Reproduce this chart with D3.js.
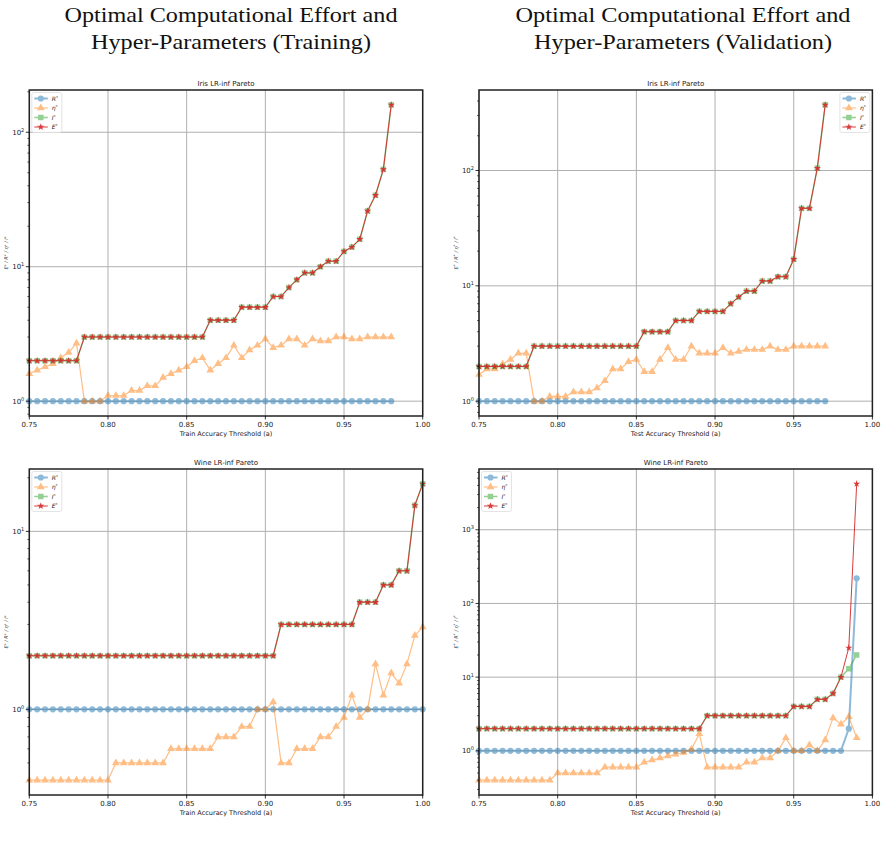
<!DOCTYPE html>
<html>
<head>
<meta charset="utf-8">
<script src="https://cdn.jsdelivr.net/npm/d3@7/dist/d3.min.js"></script>
<style>
body { margin: 0; background: #fff; }
text { font-family: "DejaVu Sans", sans-serif; }
.big { font-family: "Liberation Serif", serif; font-size: 21px; fill: #111; }
</style>
</head>
<body>
<svg id="chart" width="885" height="841"></svg>
<script>
// ---- data ----
var irisTrainA = [0.75,0.755,0.76,0.765,0.77,0.775,0.78,0.785,0.79,0.795,0.8,0.805,0.81,0.815,0.82,0.825,0.83,0.835,0.84,0.845,0.85,0.855,0.86,0.865,0.87,0.875,0.88,0.885,0.89,0.895,0.9,0.905,0.91,0.915,0.92,0.925,0.93,0.935,0.94,0.945,0.95,0.955,0.96,0.965,0.97,0.975,0.98];
var irisTrainR = [1,1,1,1,1,1,1,1,1,1,1,1,1,1,1,1,1,1,1,1,1,1,1,1,1,1,1,1,1,1,1,1,1,1,1,1,1,1,1,1,1,1,1,1,1,1,1];
var irisTrainEta = [1.6,1.7,1.8,1.9,2.1,2.3,2.7,1,1,1,1.1,1.1,1.1,1.2,1.2,1.3,1.3,1.5,1.6,1.7,1.8,2.0,2.1,1.7,1.9,2.1,2.6,2.1,2.4,2.6,2.9,2.5,2.6,2.9,2.9,2.6,2.9,2.8,2.8,3.0,3.0,2.9,2.9,3.0,3.0,3.0,3.0];
var irisTrainI = [2,2,2,2,2,2,2,3,3,3,3,3,3,3,3,3,3,3,3,3,3,3,3,4,4,4,4,5,5,5,5,6,6,7,8,9,9,10,11,11,13,14,16,26,34,53,160];
var irisTrainE = [2,2,2,2,2,2,2,3,3,3,3,3,3,3,3,3,3,3,3,3,3,3,3,4,4,4,4,5,5,5,5,6,6,7,8,9,9,10,11,11,13,14,16,26,34,53,160];

var irisTestA = [0.75,0.755,0.76,0.765,0.77,0.775,0.78,0.785,0.79,0.795,0.8,0.805,0.81,0.815,0.82,0.825,0.83,0.835,0.84,0.845,0.85,0.855,0.86,0.865,0.87,0.875,0.88,0.885,0.89,0.895,0.9,0.905,0.91,0.915,0.92,0.925,0.93,0.935,0.94,0.945,0.95,0.955,0.96,0.965,0.97];
var irisTestR = [1,1,1,1,1,1,1,1,1,1,1,1,1,1,1,1,1,1,1,1,1,1,1,1,1,1,1,1,1,1,1,1,1,1,1,1,1,1,1,1,1,1,1,1,1];
var irisTestEta = [1.7,1.9,1.9,2.1,2.3,2.6,2.6,1,1,1.1,1.1,1.1,1.2,1.2,1.2,1.3,1.5,1.9,1.9,2.2,2.3,1.8,1.8,2.3,2.9,2.3,2.3,3.0,2.6,2.6,2.6,2.9,2.6,2.7,2.8,2.8,2.8,3.0,2.8,2.8,3.0,3.0,3.0,3.0,3.0];
var irisTestI = [2,2,2,2,2,2,2,3,3,3,3,3,3,3,3,3,3,3,3,3,3,4,4,4,4,5,5,5,6,6,6,6,7,8,9,9,11,11,12,12,17,47,47,105,371];
var irisTestE = [2,2,2,2,2,2,2,3,3,3,3,3,3,3,3,3,3,3,3,3,3,4,4,4,4,5,5,5,6,6,6,6,7,8,9,9,11,11,12,12,17,47,47,105,371];

var wineTrainA = [0.75,0.755,0.76,0.765,0.77,0.775,0.78,0.785,0.79,0.795,0.8,0.805,0.81,0.815,0.82,0.825,0.83,0.835,0.84,0.845,0.85,0.855,0.86,0.865,0.87,0.875,0.88,0.885,0.89,0.895,0.9,0.905,0.91,0.915,0.92,0.925,0.93,0.935,0.94,0.945,0.95,0.955,0.96,0.965,0.97,0.975,0.98,0.985,0.99,0.995,1.0];
var wineTrainR = [1,1,1,1,1,1,1,1,1,1,1,1,1,1,1,1,1,1,1,1,1,1,1,1,1,1,1,1,1,1,1,1,1,1,1,1,1,1,1,1,1,1,1,1,1,1,1,1,1,1,1];
var wineTrainEta = [0.4,0.4,0.4,0.4,0.4,0.4,0.4,0.4,0.4,0.4,0.4,0.5,0.5,0.5,0.5,0.5,0.5,0.5,0.6,0.6,0.6,0.6,0.6,0.6,0.7,0.7,0.7,0.8,0.8,1.0,1.0,1.1,0.5,0.5,0.6,0.6,0.6,0.7,0.7,0.8,0.9,1.2,0.9,1.0,1.8,1.2,1.6,1.4,1.8,2.6,2.9];
var wineTrainI = [2,2,2,2,2,2,2,2,2,2,2,2,2,2,2,2,2,2,2,2,2,2,2,2,2,2,2,2,2,2,2,2,3,3,3,3,3,3,3,3,3,3,4,4,4,5,5,6,6,14,18.5];
var wineTrainE = [2,2,2,2,2,2,2,2,2,2,2,2,2,2,2,2,2,2,2,2,2,2,2,2,2,2,2,2,2,2,2,2,3,3,3,3,3,3,3,3,3,3,4,4,4,5,5,6,6,14,18.5];

var wineTestA = [0.75,0.755,0.76,0.765,0.77,0.775,0.78,0.785,0.79,0.795,0.8,0.805,0.81,0.815,0.82,0.825,0.83,0.835,0.84,0.845,0.85,0.855,0.86,0.865,0.87,0.875,0.88,0.885,0.89,0.895,0.9,0.905,0.91,0.915,0.92,0.925,0.93,0.935,0.94,0.945,0.95,0.955,0.96,0.965,0.97,0.975,0.98,0.985,0.99];
var wineTestR = [1,1,1,1,1,1,1,1,1,1,1,1,1,1,1,1,1,1,1,1,1,1,1,1,1,1,1,1,1,1,1,1,1,1,1,1,1,1,1,1,1,1,1,1,1,1,1,2,220];
var wineTestEta = [0.4,0.4,0.4,0.4,0.4,0.4,0.4,0.4,0.4,0.4,0.5,0.5,0.5,0.5,0.5,0.5,0.6,0.6,0.6,0.6,0.6,0.7,0.75,0.8,0.85,0.9,0.95,1.05,1.7,0.6,0.6,0.6,0.6,0.6,0.7,0.7,0.8,0.8,1.0,1.5,1.0,1.0,1.2,1.0,1.4,2.8,2.3,2.9,1.5];
var wineTestI = [2,2,2,2,2,2,2,2,2,2,2,2,2,2,2,2,2,2,2,2,2,2,2,2,2,2,2,2,2,3,3,3,3,3,3,3,3,3,3,3,4,4,4,5,5,6,10,13,20];
var wineTestE = [2,2,2,2,2,2,2,2,2,2,2,2,2,2,2,2,2,2,2,2,2,2,2,2,2,2,2,2,2,3,3,3,3,3,3,3,3,3,3,3,4,4,4,5,5,6,10,25,4200];

var xTicks = [0.75, 0.80, 0.85, 0.90, 0.95, 1.00];
var seriesNames = ['R', 'η', 'I', 'E'];

var svg = d3.select('#chart');
var pw = 393.4, ph = 326;

// series styles, drawn in this order
var styles = [
    {color:'#1f77b4', op:0.5, lw:2,   sym:d3.symbolCircle,   size:30},
    {color:'#ff7f0e', op:0.5, lw:1.2, sym:d3.symbolTriangle, size:26},
    {color:'#2ca02c', op:0.5, lw:1.5, sym:d3.symbolSquare,   size:30},
    {color:'#d62728', op:0.9, lw:1,   sym:d3.symbolStar,     size:16}
];

function starLabel(t, name, size) {
    t.append('tspan').attr('font-style','italic').text(name);
    t.append('tspan').attr('font-size', size*0.7).attr('dy', -size*0.35).text('*');
}

function panel(left, top, title, xlabel, a, series, legendRight) {
    var g = svg.append('g').attr('transform', `translate(${left},${top})`);
    var all = [].concat.apply([], series);
    var lo = Math.log10(d3.min(all)), hi = Math.log10(d3.max(all));
    var m = (hi - lo) * 0.05;
    var x = d3.scaleLinear().domain([0.75, 1.0]).range([0, pw]);
    var y = d3.scaleLog().domain([Math.pow(10, lo - m), Math.pow(10, hi + m)]).range([ph, 0]);

    // log ticks
    var majors = [], minors = [];
    for (var e = Math.floor(lo - m); e <= Math.ceil(hi + m); e++) {
        for (var k = 1; k < 10; k++) {
            var v = k * Math.pow(10, e);
            if (v < y.domain()[0] || v > y.domain()[1]) continue;
            if (k === 1) majors.push(e); else minors.push(v);
        }
    }

    // grid
    g.selectAll('.gx').data(xTicks).enter().append('line')
        .attr('x1', d=>x(d)).attr('x2', d=>x(d)).attr('y1', 0).attr('y2', ph)
        .attr('stroke', '#b0b0b0').attr('stroke-width', 1);
    g.selectAll('.gy').data(majors).enter().append('line')
        .attr('x1', 0).attr('x2', pw).attr('y1', d=>y(Math.pow(10,d))).attr('y2', d=>y(Math.pow(10,d)))
        .attr('stroke', '#b0b0b0').attr('stroke-width', 1);

    // series
    series.forEach(function (vals, i) {
        var st = styles[i];
        var pts = a.map((d, j) => [x(d), y(vals[j])]);
        var sg = g.append('g').attr('opacity', st.op);
        sg.append('path').attr('d', d3.line()(pts))
            .attr('fill', 'none').attr('stroke', st.color).attr('stroke-width', st.lw);
        sg.selectAll('path.m').data(pts).enter().append('path')
            .attr('class', 'm')
            .attr('transform', d => `translate(${d[0]},${d[1]})`)
            .attr('d', d3.symbol().type(st.sym).size(st.size))
            .attr('fill', st.color);
    });

    // spines
    g.append('rect').attr('width', pw).attr('height', ph)
        .attr('fill', 'none').attr('stroke', '#222').attr('stroke-width', 1.5);

    // x axis ticks
    g.selectAll('.xt').data(xTicks).enter().append('line')
        .attr('x1', d=>x(d)).attr('x2', d=>x(d)).attr('y1', ph).attr('y2', ph + 3.5)
        .attr('stroke', '#000').attr('stroke-width', 0.8);
    g.selectAll('.xl').data(xTicks).enter().append('text')
        .attr('x', d=>x(d)).attr('y', ph + 11).attr('text-anchor', 'middle')
        .attr('font-size', 7).attr('fill', '#222').text(d=>d.toFixed(2));
    g.append('text').attr('x', pw/2).attr('y', ph + 19.5).attr('text-anchor', 'middle')
        .attr('font-size', 6.5).attr('fill', '#222').text(xlabel);

    // y axis ticks
    g.selectAll('.ymj').data(majors).enter().append('line')
        .attr('x1', -3.5).attr('x2', 0).attr('y1', d=>y(Math.pow(10,d))).attr('y2', d=>y(Math.pow(10,d)))
        .attr('stroke', '#000').attr('stroke-width', 0.8);
    g.selectAll('.ymn').data(minors).enter().append('line')
        .attr('x1', -2).attr('x2', 0).attr('y1', d=>y(d)).attr('y2', d=>y(d))
        .attr('stroke', '#000').attr('stroke-width', 0.6);
    majors.forEach(function (e) {
        var t = g.append('text').attr('x', -5).attr('y', y(Math.pow(10,e)) + 2.5)
            .attr('text-anchor', 'end').attr('font-size', 7).attr('fill', '#222');
        t.append('tspan').text('10');
        t.append('tspan').attr('font-size', 5).attr('dy', -3).text(e);
    });

    // y label
    var yl = g.append('text').attr('transform', `translate(${-21},${ph/2}) rotate(-90)`)
        .attr('text-anchor', 'middle').attr('font-size', 5).attr('fill', '#333');
    ['E','R','η','I'].forEach(function (n, i) {
        yl.append('tspan').attr('font-style','italic').attr('dy', i ? 1.75 : 0).text((i ? ' / ' : '') + n);
        yl.append('tspan').attr('font-size', 3.5).attr('dy', -1.75).text('*');
    });

    // title
    g.append('text').attr('x', pw/2).attr('y', -4).attr('text-anchor', 'middle')
        .attr('font-size', 7).attr('fill', '#222').text(title);

    // legend
    var lw = 30, lh = 40;
    var lx = legendRight ? pw - lw - 2.5 : 2.5, ly = 2.5;
    var lg = g.append('g').attr('transform', `translate(${lx},${ly})`);
    lg.append('rect').attr('width', lw).attr('height', lh).attr('rx', 2)
        .attr('fill', '#fff').attr('fill-opacity', 0.8).attr('stroke', '#ddd').attr('stroke-width', 0.8);
    seriesNames.forEach(function (n, i) {
        var st = styles[i], yy = 6 + i * 9.5;
        var eg = lg.append('g').attr('opacity', st.op);
        eg.append('line').attr('x1', 2.5).attr('x2', 16).attr('y1', yy).attr('y2', yy)
            .attr('stroke', st.color).attr('stroke-width', st.lw);
        eg.append('path').attr('transform', `translate(9,${yy})`)
            .attr('d', d3.symbol().type(st.sym).size(st.size)).attr('fill', st.color);
        var t = lg.append('text').attr('x', 20).attr('y', yy + 2.2).attr('font-size', 6).attr('fill', '#222');
        starLabel(t, n, 6);
    });
}

panel(29.3, 90, 'Iris LR-inf Pareto', 'Train Accuracy Threshold (a)', irisTrainA,
    [irisTrainR, irisTrainEta, irisTrainI, irisTrainE], false);
panel(479, 90, 'Iris LR-inf Pareto', 'Test Accuracy Threshold (a)', irisTestA,
    [irisTestR, irisTestEta, irisTestI, irisTestE], true);
panel(29.3, 469, 'Wine LR-inf Pareto', 'Train Accuracy Threshold (a)', wineTrainA,
    [wineTrainR, wineTrainEta, wineTrainI, wineTrainE], false);
panel(479, 469, 'Wine LR-inf Pareto', 'Test Accuracy Threshold (a)', wineTestA,
    [wineTestR, wineTestEta, wineTestI, wineTestE], false);

// column headings
var heads = [
    {x:231, lines:['Optimal Computational Effort and', 'Hyper-Parameters (Training)'], w:[333, 280]},
    {x:683, lines:['Optimal Computational Effort and', 'Hyper-Parameters (Validation)'], w:[335, 298]}
];
heads.forEach(function (h) {
    h.lines.forEach(function (s, i) {
        svg.append('text').attr('class', 'big')
            .attr('x', h.x).attr('y', 22 + i * 27).attr('text-anchor', 'middle')
            .attr('textLength', h.w[i]).attr('lengthAdjust', 'spacingAndGlyphs')
            .text(s);
    });
});
</script>
</body>
</html>
